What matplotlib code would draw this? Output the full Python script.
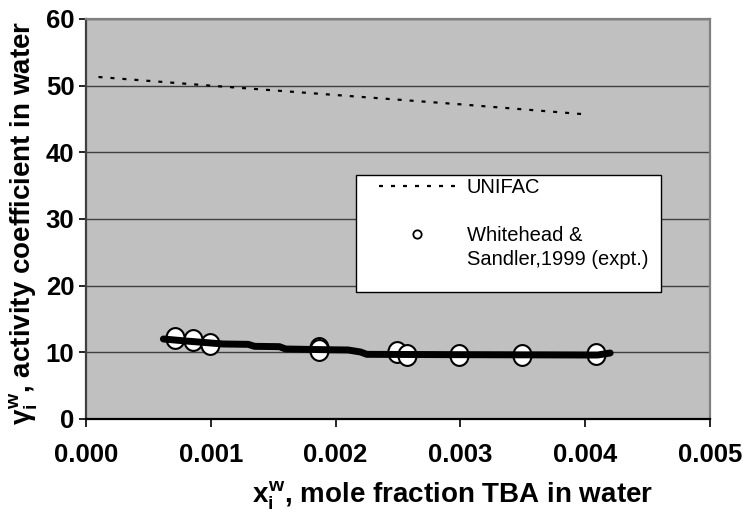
import matplotlib
matplotlib.use("Agg")
import matplotlib.pyplot as plt
from matplotlib.lines import Line2D
from matplotlib.patches import Rectangle
from matplotlib.path import Path
from matplotlib.transforms import Affine2D
from matplotlib.ticker import FormatStrFormatter

# =========================
# DATA
# =========================
# UNIFAC prediction (dotted)
unifac_x = [0.0001, 0.0010, 0.0020, 0.0030, 0.0040]
unifac_y = [51.3, 50.0, 48.6, 47.2, 45.7]

# Whitehead & Sandler, 1999 (expt.)
expt_x = [0.00071, 0.00086, 0.00099, 0.00187, 0.00187, 0.00249, 0.00257, 0.00299, 0.00349, 0.00409]
expt_y = [12.1, 11.8, 11.2, 10.7, 10.3, 10.0, 9.6, 9.6, 9.6, 9.7]

# model fit (thick black line)
fit_x = [0.00062, 0.00080, 0.00100, 0.00110, 0.00130, 0.00135, 0.00155, 0.00160,
         0.00190, 0.00210, 0.00220, 0.00225, 0.00300, 0.00400, 0.00410, 0.00420]
fit_y = [12.0, 11.7, 11.4, 11.25, 11.2, 10.9, 10.85, 10.5,
         10.4, 10.35, 10.05, 9.7, 9.65, 9.6, 9.6, 9.9]

x_ticks = [0.000, 0.001, 0.002, 0.003, 0.004, 0.005]
y_ticks = [0, 10, 20, 30, 40, 50, 60]

# =========================
# STYLE
# =========================
plt.rcParams["font.family"] = ["Liberation Sans", "DejaVu Sans"]
plt.rcParams["mathtext.fontset"] = "custom"
plt.rcParams["mathtext.rm"] = "Liberation Sans:bold"
plt.rcParams["mathtext.it"] = "Liberation Sans:bold"
plt.rcParams["mathtext.bf"] = "Liberation Sans:bold"

TICK_FS = 18.5
LABEL_FS = 20
LEGEND_FS = 14.5

W, H = 743, 513
fig = plt.figure(figsize=(W / 100, H / 100), dpi=100)
ax = fig.add_axes([86 / W, 1 - 419 / H, 624 / W, 400 / H])
ax.set_facecolor("#c0c0c0")

# gridlines
ax.set_axisbelow(True)
ax.yaxis.grid(True, color="#404040", linewidth=1.0)

# slightly tall ellipse, like the original Excel markers
ellipse = Path.unit_circle().transformed(Affine2D().scale(0.88, 1.0))

# =========================
# SERIES
# =========================
ax.plot(unifac_x, unifac_y, color="black", linewidth=1.6,
        linestyle=(0, (1.8, 3.6)), zorder=3)
ax.plot(expt_x, expt_y, linestyle="none", marker=ellipse, markersize=15,
        markerfacecolor="white", markeredgecolor="black",
        markeredgewidth=1.5, zorder=3)
ax.plot(fit_x, fit_y, color="black", linewidth=5, solid_capstyle="round",
        solid_joinstyle="round", zorder=4)

# =========================
# AXES
# =========================
ax.set_xlim(0, 0.005)
ax.set_ylim(0, 60)
ax.set_xticks(x_ticks)
ax.set_yticks(y_ticks)
ax.xaxis.set_major_formatter(FormatStrFormatter("%.3f"))

ax.tick_params(axis="both", direction="out", width=1.2, color="black")
ax.tick_params(axis="y", length=5, pad=3.3)
ax.tick_params(axis="x", length=6, pad=11.5)
for lab in ax.get_xticklabels() + ax.get_yticklabels():
    lab.set_fontsize(TICK_FS)
    lab.set_fontweight("bold")

ax.spines["left"].set_color("#404040")
ax.spines["bottom"].set_color("black")
ax.spines["top"].set_color("#808080")
ax.spines["right"].set_color("#808080")
for s in ax.spines.values():
    s.set_linewidth(1.6)

ax.set_xlabel(r"$x_i^w$, mole fraction TBA in water", fontsize=LABEL_FS,
              fontweight="bold")
ax.xaxis.set_label_coords(0.587, -(480 - 419) / 400)
ax.set_ylabel(r"$\gamma_i^w$, activity coefficient in water", fontsize=LABEL_FS,
              fontweight="bold")
ax.yaxis.set_label_coords(-(86 - 40) / 624, 0.49)

# =========================
# LEGEND
# =========================
box = Rectangle((356 / W, 1 - 292 / H), (661 - 356) / W, (292 - 175) / H,
                transform=fig.transFigure, facecolor="white",
                edgecolor="black", linewidth=1.0, zorder=5, clip_on=False)
ax.add_patch(box)

handles = [
    Line2D([], [], color="black", linewidth=1.6, linestyle=(0, (1.8, 3.6))),
    Line2D([], [], linestyle="none"),
    Line2D([], [], linestyle="none", marker="o", markersize=6,
           markerfacecolor="white", markeredgecolor="black", markeredgewidth=1.3),
    Line2D([], [], linestyle="none"),
]
labels = ["UNIFAC", " ", "Whitehead &", "Sandler,1999 (expt.)"]
leg = ax.legend(handles, labels, loc="upper left",
                bbox_to_anchor=(379 / W, 1 - 178 / H),
                bbox_transform=fig.transFigure, frameon=False,
                borderpad=0, borderaxespad=0, fontsize=LEGEND_FS,
                handlelength=3.8, handletextpad=0.55, labelspacing=0.25)
leg.set_zorder(6)

fig.savefig("out.png", dpi=100)
